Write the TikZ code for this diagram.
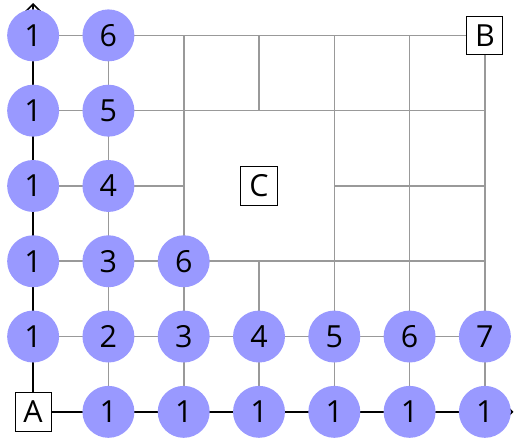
\documentclass[tikz,border=0pt]{standalone}
\usepackage{fontspec}
\setmainfont{Open Sans}
\usetikzlibrary{arrows.meta}

\begin{document}
\begin{tikzpicture}[every node/.style={font=\fontsize{11.5}{13}\selectfont}, >={Straight Barb[length=1mm]}, x=1cm, y=1cm,
	street/.style={draw=gray!80, line width=0.6pt},
	count/.style={circle, fill=blue!40, minimum size=0.69cm, inner sep=0pt},
	corner/.style={draw, fill=white, minimum width=0.48cm, minimum height=0.51cm, inner sep=0pt}]
	\useasboundingbox (-0.44,-0.36) rectangle (6.40,5.47);
	\foreach \i in {0,...,6} {
		\foreach \j in {0,...,5} {
			\coordinate (p-\i-\j) at (\i,\j);
		}
	}
	\coordinate (xend) at (6.38,0);
	\coordinate (yend) at (0,5.43);
	% streets
	\foreach \j in {1,2,4,5} {
		\draw[street] (p-0-\j) -- (p-6-\j);
	}
	\draw[street] (p-0-3) -- (p-2-3);
	\draw[street] (p-4-3) -- (p-6-3);
	\foreach \i in {1,2,4,5,6} {
		\draw[street] (p-\i-0) -- (p-\i-5);
	}
	\draw[street] (p-3-0) -- (p-3-2);
	\draw[street] (p-3-4) -- (p-3-5);
	% axes
	\draw[->, line width=0.6pt] (p-0-0) -- (xend);
	\draw[->, line width=0.6pt] (p-0-0) -- (yend);
	% path counts
	\foreach \i/\j/\v in {0/1/1, 0/2/1, 0/3/1, 0/4/1, 0/5/1,
		1/0/1, 1/1/2, 1/2/3, 1/3/4, 1/4/5, 1/5/6,
		2/0/1, 2/1/3, 2/2/6,
		3/0/1, 3/1/4, 4/0/1, 4/1/5, 5/0/1, 5/1/6, 6/0/1, 6/1/7} {
		\node[count] (c-\i-\j) at (p-\i-\j) {\v};
	}
	\node[corner] (A) at (p-0-0) {A};
	\node[corner] (B) at (p-6-5) {B};
	\node[corner] (C) at (p-3-3) {C};
\end{tikzpicture}
\end{document}
